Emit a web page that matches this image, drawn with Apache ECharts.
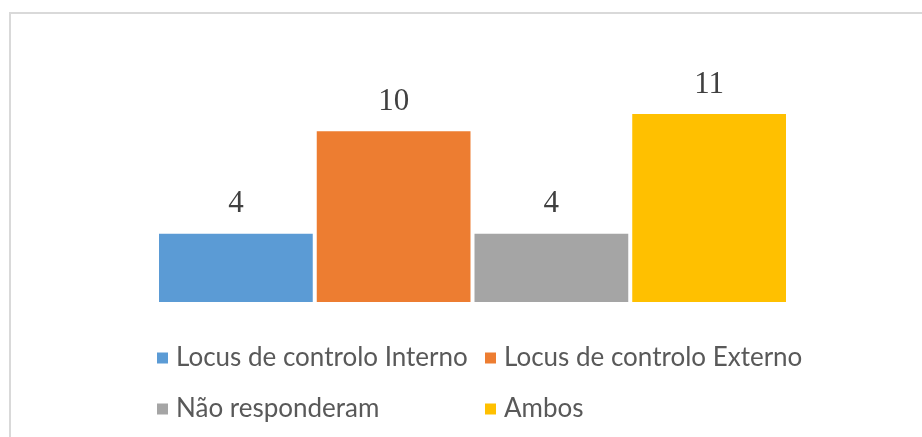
<!DOCTYPE html>
<html><head><meta charset="utf-8">
<script src="https://cdn.jsdelivr.net/npm/echarts@6/dist/echarts.min.js"></script>
<style>html,body{margin:0;padding:0;background:#fff;}#c{width:922px;height:437px;}</style>
</head><body><div id="c"></div>
<script>
var categories = [''];
var seriesNames = ['Locus de controlo Interno', 'Locus de controlo Externo', 'Não responderam', 'Ambos'];
var seriesValues = [4, 10, 4, 11];
var seriesColors = ['#5B9BD5', '#ED7D31', '#A5A5A5', '#FFC000'];

var chart = echarts.init(document.getElementById('c'));
var series = seriesNames.map(function (n, i) {
  return {
    name: n, type: 'bar', data: [seriesValues[i]],
    barGap: '2.6%', barCategoryGap: '0%',
    itemStyle: { color: seriesColors[i] },
    label: { show: true, position: 'top', distance: 14,
      fontFamily: '"Liberation Serif","Times New Roman",serif', fontSize: 31, color: '#404040' }
  };
});
chart.setOption({
  animation: false,
  backgroundColor: '#fff',
  graphic: [{ type: 'rect', shape: { x: 10, y: 13, width: 1000, height: 500 },
    style: { fill: 'none', stroke: '#d9d9d9', lineWidth: 2 }, silent: true }],
  grid: { left: 159, right: 136, top: 97, bottom: 135 },
  xAxis: { type: 'category', data: categories, show: false },
  yAxis: { type: 'value', min: 0, max: 12, show: false },
  legend: {
    left: 152, top: 332, width: 700, orient: 'horizontal',
    itemWidth: 11, itemHeight: 11, itemGap: 9, icon: 'rect',
    textStyle: { fontFamily: 'Lato, "Open Sans", sans-serif', fontSize: 26, color: '#595959',
      width: 300, lineHeight: 42, padding: [0, 0, 0, 3] },
    data: seriesNames
  },
  series: series
});
</script></body></html>
